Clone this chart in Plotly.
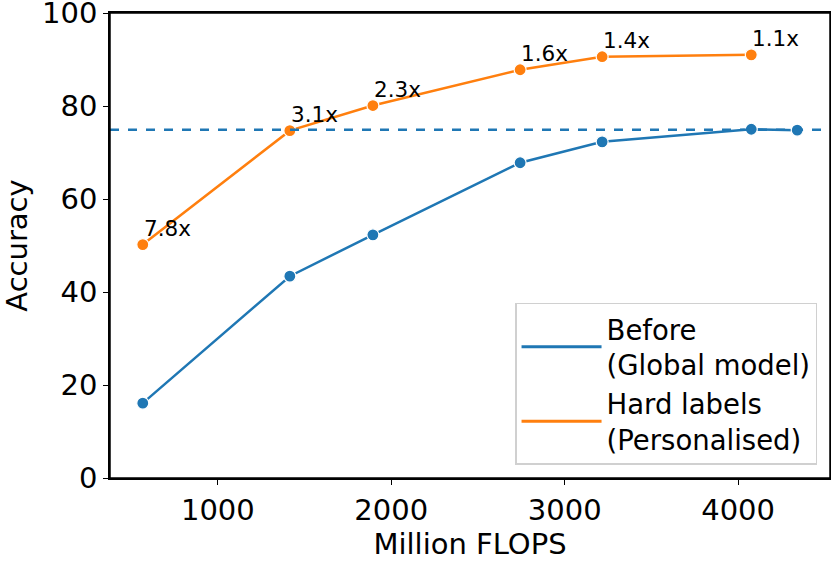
import plotly.graph_objects as go

# Values
flops = [567, 1415, 1894, 2743, 3216, 4076, 4341]
acc_before = [16.1, 43.4, 52.3, 67.8, 72.3, 75.0, 74.8]
acc_hard = [50.2, 74.7, 80.1, 87.8, 90.6, 91.0]
speedup_labels = ['7.8x', '3.1x', '2.3x', '1.6x', '1.4x', '1.1x']
baseline_acc = 74.9

blue = '#1f77b4'
orange = '#ff7f0e'
font = 'DejaVu Sans'

fig = go.Figure()
for name, ys, col in [('Before<br>(Global model)', acc_before, blue),
                      ('Hard labels<br>(Personalised)', acc_hard, orange)]:
    fig.add_trace(go.Scatter(
        x=flops[:len(ys)], y=ys, mode='lines+markers', showlegend=False,
        line=dict(color=col, width=2.5),
        marker=dict(size=12, color=col, line=dict(color='white', width=1.2)),
    ))
    # legend entry drawn as a plain line, like the reference
    fig.add_trace(go.Scatter(x=[None], y=[None], mode='lines', name=name,
                             line=dict(color=col, width=3)))

fig.add_hline(y=baseline_acc, line=dict(color=blue, width=2.5, dash='dash'))

for x, y, t in zip(flops, acc_hard, speedup_labels):
    fig.add_annotation(x=x, y=y, text=t, showarrow=False,
                       xanchor='left', yanchor='bottom', xshift=-1, yshift=2,
                       font=dict(family=font, size=21.5, color='black'))

axis_common = dict(showline=True, linecolor='black', linewidth=1.5, mirror=True,
                   ticks='outside', ticklen=5, tickcolor='black', tickwidth=1.2,
                   showgrid=False, zeroline=False, automargin=False,
                   ticklabeloverflow='allow',
                   tickfont=dict(family=font, size=29, color='black'))

fig.update_xaxes(range=[378, 4530], tickvals=[1000, 2000, 3000, 4000],
                 title=dict(text='Million FLOPS', font=dict(family=font, size=29, color='black'),
                            standoff=2),
                 **axis_common)
fig.update_yaxes(range=[0, 100], tickvals=[0, 20, 40, 60, 80, 100],
                 title=dict(text='Accuracy', font=dict(family=font, size=29, color='black'),
                            standoff=8),
                 **axis_common)

# frame around the plot area
fig.add_shape(type='rect', xref='paper', yref='paper', x0=0, x1=1, y0=0, y1=1,
              line=dict(color='black', width=1.5), layer='above')

fig.update_layout(
    width=831, height=561,
    margin=dict(l=110, r=1, t=13, b=83),
    plot_bgcolor='white', paper_bgcolor='white',
    font=dict(family=font, color='black'),
    legend=dict(x=0.982, y=0.028, xanchor='right', yanchor='bottom',
                bgcolor='white', bordercolor='#d0d0d0', borderwidth=1.5,
                font=dict(family=font, size=27.5, color='black'),
                tracegroupgap=0, itemwidth=80),
)

# drop the page's default body margin so the figure fills the window
fig.write_html('out.html', config={'displayModeBar': False},
               post_script="document.body.style.margin='0';")
